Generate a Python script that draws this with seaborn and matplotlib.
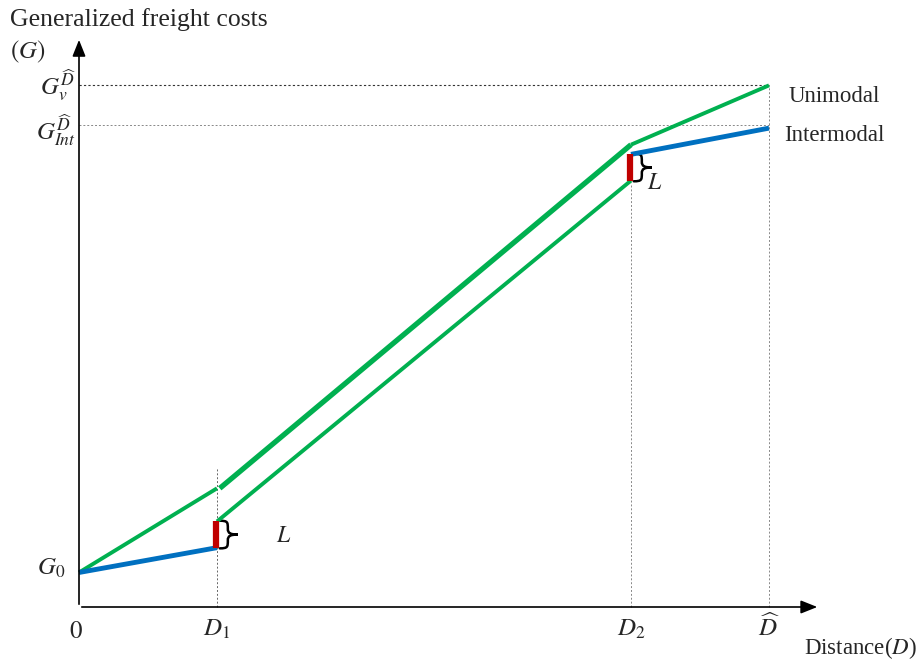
import numpy as np
import pandas as pd
import seaborn as sns
import matplotlib.pyplot as plt
from matplotlib.path import Path
from matplotlib.patches import PathPatch

# distances (unit = D1)
d1, d2, d_hat = 1.0, 4.0, 5.0
g0 = 0.25

# intermodal pieces (road haul, then rail after transfer)
inter_x1 = [0.0, d1]
inter_y1 = [g0, 0.43]
inter_x2 = [d2, d_hat]
inter_y2 = [3.28, 3.47]
# trans-shipment cost L at terminals
jump_x = [d1, d2]
jump_lo = [0.43, 3.09]
jump_hi = [0.62, 3.28]
# intermodal main haul
main_x = [d1, d2]
main_y = [0.62, 3.09]

# unimodal
uni_x1 = [0.0, d1]
uni_y1 = [g0, 0.86]
uni_x2 = [1.02, d2]
uni_y2 = [0.86, 3.35]
uni_x3 = [d2, d_hat]
uni_y3 = [3.35, 3.78]

g_v_hat = 3.78
g_int_hat = 3.49

green = "#00B050"
blue = "#0070C0"
red = "#C00000"

sns.set_style("white")
plt.rcParams["font.family"] = ["Liberation Serif", "DejaVu Serif"]
plt.rcParams["mathtext.fontset"] = "stix"

fig = plt.figure(figsize=(9.21, 6.62), dpi=100)
ax = fig.add_axes([0, 0, 1, 1])
ax.set_xlim(-79 / 138, (921 - 79) / 138)
ax.set_ylim(-55 / 138, (662 - 55) / 138)
ax.axis("off")

# guide lines
ax.plot([0, d_hat], [g_v_hat, g_v_hat], ls=(0, (2, 2)), lw=0.8, color="#333333")
ax.plot([0, d_hat], [g_int_hat, g_int_hat], ls=(0, (2, 2)), lw=0.7, color="#888888")
ax.plot([d1, d1], [0, 1.01], ls=(0, (2, 2)), lw=0.7, color="#666666")
ax.plot([d2, d2], [0, jump_lo[1] - 0.02], ls=(0, (2, 2)), lw=0.7, color="#888888")
ax.plot([d_hat, d_hat], [0, g_v_hat], ls=(0, (2, 2)), lw=0.7, color="#888888")

# axes arrows
ax.annotate("", xy=(5.37, 0), xytext=(0, 0),
            arrowprops=dict(arrowstyle="-|>,head_length=1.0,head_width=0.4", lw=1.2, color="black"))
ax.annotate("", xy=(0, 4.13), xytext=(0, 0),
            arrowprops=dict(arrowstyle="-|>,head_length=1.0,head_width=0.4", lw=1.2, color="black"))

def seg(x, y, color, lw):
    df = pd.DataFrame({"x": x, "y": y})
    sns.lineplot(data=df, x="x", y="y", color=color, lw=lw, sort=False, estimator=None,
                 ax=ax, solid_capstyle="butt")

def brace(x0, lo, hi, w=0.13):
    h = hi - lo
    mid = (lo + hi) / 2
    xm = x0 + 0.45 * w
    verts = [(x0, hi),
             (xm, hi), (xm, hi - 0.05 * h), (xm, mid + 0.2 * h),
             (xm, mid + 0.05 * h), (x0 + 0.6 * w, mid), (x0 + w, mid),
             (x0 + 0.6 * w, mid), (xm, mid - 0.05 * h), (xm, mid - 0.2 * h),
             (xm, lo + 0.05 * h), (xm, lo), (x0, lo)]
    codes = [Path.MOVETO] + [Path.CURVE4] * 12
    ax.add_patch(PathPatch(Path(verts, codes), fill=False, lw=1.8, color="black",
                           capstyle="round"))

seg(uni_x1, uni_y1, green, 2.8)
seg(uni_x2, uni_y2, green, 3.8)
seg(uni_x3, uni_y3, green, 2.8)
seg(main_x, main_y, green, 2.8)
seg(inter_x1, inter_y1, blue, 3.5)
seg(inter_x2, inter_y2, blue, 3.5)
for x, lo, hi in zip(jump_x, jump_lo, jump_hi):
    seg([x - 0.004, x - 0.004], [lo, hi], red, 4.5)

# braces and L labels
for x, lo, hi, lx, ly in zip(jump_x, jump_lo, jump_hi, [1.48, 4.17], [0.51, 3.07]):
    brace(x + 0.02, lo - 0.005, hi + 0.005)
    ax.text(lx, ly, "$L$", fontsize=17, ha="center", va="center")

# labels
ax.text(-0.5, 4.26, "Generalized freight costs", fontsize=18.5, ha="left", va="center")
ax.text(-0.5, 4.02, "$(G)$", fontsize=18, ha="left", va="center")
ax.text(-0.02, g_v_hat, r"$G_v^{\widehat{D}}$", fontsize=18, ha="right", va="center")
ax.text(-0.02, g_int_hat - 0.03, r"$G_{Int}^{\widehat{D}}$", fontsize=18, ha="right", va="center")
ax.text(-0.1, g0 + 0.03, "$G_0$", fontsize=18, ha="right", va="center")
ax.text(-0.02, -0.18, "$0$", fontsize=18, ha="center", va="center")
ax.text(d1, -0.16, "$D_1$", fontsize=18, ha="center", va="center")
ax.text(d2, -0.16, "$D_2$", fontsize=18, ha="center", va="center")
ax.text(d_hat, -0.15, r"$\widehat{D}$", fontsize=18, ha="center", va="center")
ax.text(6.07, -0.3, "Distance($D$)", fontsize=16.5, ha="right", va="center")
ax.text(5.14, 3.7, "Unimodal", fontsize=16.5, ha="left", va="center")
ax.text(5.11, 3.42, "Intermodal", fontsize=16.5, ha="left", va="center")

fig.savefig("out.png", dpi=100)
